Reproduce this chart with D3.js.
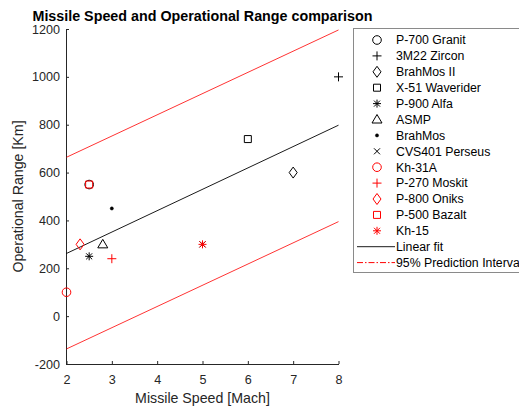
<!DOCTYPE html>
<html><head><meta charset="utf-8">
<script src="https://cdn.jsdelivr.net/npm/d3@7"></script>
<style>
html,body{margin:0;padding:0;background:#fff;}
svg{display:block;font-family:"Liberation Sans",Arial,Helvetica,sans-serif;}
</style></head>
<body><svg id="c" width="519" height="411"></svg>
<script>
// ---- data ----
const names = ["P-700 Granit","3M22 Zircon","BrahMos II","X-51 Waverider","P-900 Alfa","ASMP","BrahMos","CVS401 Perseus","Kh-31A","P-270 Moskit","P-800 Oniks","P-500 Bazalt","Kh-15"];
const speeds = [2.5, 8, 7, 6, 2.5, 2.8, 3, 5, 2, 3, 2.3, 2.5, 5];
const ranges = [550, 1000, 600, 740, 250, 300, 450, 300, 100, 240, 300, 550, 300];
const markerTypes = ["circle","plus","diamond","square","asterisk","triangle","point","cross","circle","plus","diamond","square","asterisk"];
const markerColors = ["#000","#000","#000","#000","#000","#000","#000","#000","#f00","#f00","#f00","#f00","#f00"];
const fitX = [2, 8];
const fitY = [262, 798];
const predUpper = [664, 1196];
const predLower = [-137, 395];
const xTicks = [2,3,4,5,6,7,8];
const yTicks = [-200,0,200,400,600,800,1000,1200];
const lineLabels = ["Linear fit","95% Prediction Interval"];

// ---- layout ----
const svg = d3.select("#c");
const x = d3.scaleLinear().domain([2,8]).range([66.5,338.5]);
const y = d3.scaleLinear().domain([-200,1200]).range([364,29]);
const axisColor = "#262626";

function markerPath(t){
  const p = d3.path();
  switch(t){
    case "circle": p.arc(0,0,4.3,0,2*Math.PI); break;
    case "plus": p.moveTo(-4.5,0);p.lineTo(4.5,0);p.moveTo(0,-4.5);p.lineTo(0,4.5); break;
    case "diamond": p.moveTo(0,-5.5);p.lineTo(4,0);p.lineTo(0,5.5);p.lineTo(-4,0);p.closePath(); break;
    case "square": p.rect(-3.5,-3.5,7,7); break;
    case "asterisk":
      p.moveTo(-4,0);p.lineTo(4,0);p.moveTo(0,-4);p.lineTo(0,4);
      p.moveTo(-3,-3);p.lineTo(3,3);p.moveTo(-3,3);p.lineTo(3,-3); break;
    case "triangle": p.moveTo(0,-5);p.lineTo(5,3.5);p.lineTo(-5,3.5);p.closePath(); break;
    case "cross": p.moveTo(-3,-3);p.lineTo(3,3);p.moveTo(-3,3);p.lineTo(3,-3); break;
    case "point": p.arc(0,0,1.6,0,2*Math.PI); break;
  }
  return p.toString();
}
function drawMarker(g, t, c){
  g.append("path").attr("d", markerPath(t))
    .attr("fill", t==="point" ? c : "none")
    .attr("stroke", c).attr("stroke-width", t==="point"?0.5:1);
}

// axes
const xAxis = d3.axisBottom(x).tickValues(xTicks).tickFormat(d=>String(d)).tickSizeInner(-3).tickSizeOuter(0).tickPadding(11);
const yAxis = d3.axisLeft(y).tickValues(yTicks).tickFormat(d=>String(d)).tickSizeInner(-3).tickSizeOuter(0).tickPadding(6);
const gx = svg.append("g").attr("transform","translate(0,364)").call(xAxis);
const gy = svg.append("g").attr("transform","translate(66,0)").call(yAxis);
[gx,gy].forEach(g=>{
  g.select(".domain").attr("stroke",axisColor);
  g.selectAll(".tick line").attr("stroke",axisColor);
  g.selectAll(".tick text").attr("fill",axisColor).style("font-size","12.6px").style("font-family","'Liberation Sans',Arial,sans-serif");
});

// lines
const line = d3.line().x(d=>x(d[0])).y(d=>y(d[1]));
svg.append("path").attr("d", line(fitX.map((v,i)=>[v,predUpper[i]])))
  .attr("fill","none").attr("stroke","#f00").attr("stroke-opacity",0.8).attr("stroke-width",1);
svg.append("path").attr("d", line(fitX.map((v,i)=>[v,predLower[i]])))
  .attr("fill","none").attr("stroke","#f00").attr("stroke-opacity",0.8).attr("stroke-width",1);
svg.append("path").attr("d", line(fitX.map((v,i)=>[v,fitY[i]])))
  .attr("fill","none").attr("stroke","#000").attr("stroke-width",0.9);

// points
names.forEach((n,i)=>{
  const g = svg.append("g").attr("transform",`translate(${x(speeds[i])},${y(ranges[i])})`);
  drawMarker(g, markerTypes[i], markerColors[i]);
});

// title and labels
svg.append("text").attr("x",202.5).attr("y",21).attr("text-anchor","middle")
  .style("font-weight","bold").style("font-size","14.3px").attr("fill","#000")
  .text("Missile Speed and Operational Range comparison");
svg.append("text").attr("x",202.5).attr("y",403).attr("text-anchor","middle")
  .style("font-size","14.2px").attr("fill",axisColor).text("Missile Speed [Mach]");
svg.append("text").attr("transform","translate(23,196.5) rotate(-90)").attr("text-anchor","middle")
  .style("font-size","14.2px").attr("fill",axisColor).text("Operational Range [Km]");

// legend
const leg = svg.append("g");
leg.append("rect").attr("x",353.5).attr("y",28.5).attr("width",200).attr("height",244)
  .attr("fill","#fff").attr("stroke","#8a8a8a").attr("stroke-width",1);
const rowY = i => 40 + i*15.9;
names.forEach((n,i)=>{
  const g = leg.append("g").attr("transform",`translate(377,${rowY(i)})`);
  drawMarker(g, markerTypes[i], markerColors[i]);
  leg.append("text").attr("x",396).attr("y",rowY(i)).attr("dy","0.35em")
    .style("font-size","12.3px").attr("fill","#000").text(n);
});
const li = names.length;
leg.append("line").attr("x1",357).attr("x2",395).attr("y1",rowY(li)).attr("y2",rowY(li))
  .attr("stroke","#000").attr("stroke-width",0.9);
leg.append("text").attr("x",396).attr("y",rowY(li)).attr("dy","0.35em").style("font-size","12.3px").text(lineLabels[0]);
leg.append("line").attr("x1",357).attr("x2",395).attr("y1",rowY(li+1)).attr("y2",rowY(li+1))
  .attr("stroke","#f00").attr("stroke-width",1).attr("stroke-dasharray","6,2,1.5,2");
leg.append("text").attr("x",396).attr("y",rowY(li+1)).attr("dy","0.35em").style("font-size","12.3px").text(lineLabels[1]);
</script></body></html>
